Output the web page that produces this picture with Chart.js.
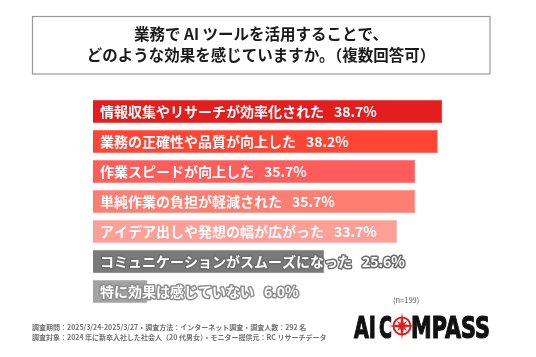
<!DOCTYPE html>
<html>
<head>
<meta charset="utf-8">
<script src="https://cdn.jsdelivr.net/npm/chart.js@4"></script>
<style>
html,body{margin:0;padding:0;background:#fff;}
#wrap{width:536px;height:357px;position:relative;}
</style>
</head>
<body>
<div id="wrap"><canvas id="c"></canvas></div>
<script>
const titleLines = ["業務で AI ツールを活用することで、", "どのような効果を感じていますか。（複数回答可）"];
const categories = [
  "情報収集やリサーチが効率化された",
  "業務の正確性や品質が向上した",
  "作業スピードが向上した",
  "単純作業の負担が軽減された",
  "アイデア出しや発想の幅が広がった",
  "コミュニケーションがスムーズになった",
  "特に効果は感じていない"
];
const values = [38.7, 38.2, 35.7, 35.7, 33.7, 25.6, 6.0];
const barColors = ["#E31E1E", "#FF4535", "#FF5C5C", "#FF7E72", "#FFA098", "#7A7A7A", "#A3A3A3"];
const borderColors = ["#F06060", "#FF8070", "#FF9090", "#FFA8A0", "#FFC4BE", "#A0A0A0", "#C0C0C0"];
const outlineColors = [null, null, null, null, null, "#6E6E6E", "#8E8E8E"];
const sampleNote = "(n=199)";
const footerLines = [
  "調査期間：2025/3/24-2025/3/27・調査方法：インターネット調査・調査人数：292 名",
  "調査対象：2024 年に新卒入社した社会人（20 代男女）・モニター提供元：RC リサーチデータ"
];

const JP = '"Noto Sans CJK JP", "Noto Sans", sans-serif';

const overlay = {
  id: 'overlay',
  afterDatasetsDraw(chart) {
    const ctx = chart.ctx;
    const meta = chart.getDatasetMeta(0);
    ctx.save();
    ctx.font = 'bold 14px ' + JP;
    ctx.textBaseline = 'middle';
    ctx.textAlign = 'left';
    ctx.lineJoin = 'round';
    meta.data.forEach((bar, i) => {
      const x0 = bar.base + 7;
      const y = bar.y + 0.5;
      const label = categories[i];
      const val = values[i].toFixed(1) + '%';
      const w = ctx.measureText(label).width;
      const vx = x0 + w + 10;
      if (outlineColors[i]) {
        ctx.strokeStyle = outlineColors[i];
        ctx.lineWidth = 3;
        ctx.strokeText(label, x0, y);
        ctx.strokeText(val, vx, y);
      }
      ctx.fillStyle = '#ffffff';
      ctx.fillText(label, x0, y);
      ctx.fillText(val, vx, y);
    });
    ctx.restore();
  },
  beforeDraw(chart) {
    const ctx = chart.ctx;
    ctx.save();
    ctx.fillStyle = '#fff';
    ctx.fillRect(0, 0, chart.width, chart.height);
    // title box
    ctx.strokeStyle = '#9a9a9a';
    ctx.lineWidth = 1.2;
    ctx.strokeRect(32.5, 16.5, 457.5, 57.5);
    ctx.fillStyle = '#1a1a1a';
    ctx.font = 'bold 15.5px ' + JP;
    ctx.textAlign = 'center';
    ctx.textBaseline = 'middle';
    ctx.fillText(titleLines[0], 261, 34);
    ctx.fillText(titleLines[1], 261, 55);
    // n
    ctx.font = '7.5px ' + JP;
    ctx.fillStyle = '#555';
    ctx.textAlign = 'left';
    ctx.fillText(sampleNote, 393, 300);
    // footer
    ctx.font = 'bold 7px ' + JP;
    ctx.fillStyle = '#707070';
    ctx.fillText(footerLines[0], 32, 327);
    ctx.fillText(footerLines[1], 32, 337.5);
    // logo
    ctx.fillStyle = '#111';
    ctx.strokeStyle = '#111';
    ctx.lineWidth = 1.2;
    ctx.textBaseline = 'alphabetic';
    ctx.font = 'bold 31px "DejaVu Sans", sans-serif';
    const drawFit = (t, x1, x2, base) => {
      const w = ctx.measureText(t).width;
      ctx.save();
      ctx.translate(x1, base);
      ctx.scale((x2 - x1) / w, 1);
      ctx.fillText(t, 0, 0);
      ctx.strokeText(t, 0, 0);
      ctx.restore();
    };
    drawFit('AI', 354, 376, 337.5);
    drawFit('C', 379, 392, 337.5);
    drawFit('MPASS', 411, 490, 337.5);
    // compass
    const cx = 402, cy = 326;
    ctx.strokeStyle = '#E02020';
    ctx.fillStyle = '#E02020';
    ctx.lineWidth = 2;
    ctx.beginPath();
    ctx.arc(cx, cy, 8.5, 0, Math.PI * 2);
    ctx.stroke();
    ctx.beginPath();
    const R = 13.5, r = 2.6;
    for (let k = 0; k < 8; k++) {
      const a = -Math.PI / 2 + k * Math.PI / 4;
      const rr = (k % 2 === 0) ? R : r;
      ctx.lineTo(cx + rr * Math.cos(a), cy + rr * Math.sin(a));
    }
    ctx.closePath();
    ctx.fill();
    ctx.beginPath();
    const R2 = 7, r2 = 2;
    for (let k = 0; k < 8; k++) {
      const a = -Math.PI / 4 + k * Math.PI / 4;
      const rr = (k % 2 === 0) ? R2 : r2;
      ctx.lineTo(cx + rr * Math.cos(a), cy + rr * Math.sin(a));
    }
    ctx.closePath();
    ctx.fill();
    ctx.restore();
  }
};

new Chart(document.getElementById('c'), {
  type: 'bar',
  data: {
    labels: categories,
    datasets: [{
      data: values,
      backgroundColor: barColors,
      borderColor: borderColors,
      borderWidth: 1,
      barThickness: 23
    }]
  },
  options: {
    indexAxis: 'y',
    responsive: true,
    maintainAspectRatio: false,
    animation: false,
    layout: { padding: { left: 93, right: 82.2, top: 96.5, bottom: 50.5 } },
    scales: {
      x: { display: false, min: 0, max: 40 },
      y: { display: false }
    },
    plugins: { legend: { display: false }, tooltip: { enabled: false } }
  },
  plugins: [overlay]
});
</script>
</body>
</html>
